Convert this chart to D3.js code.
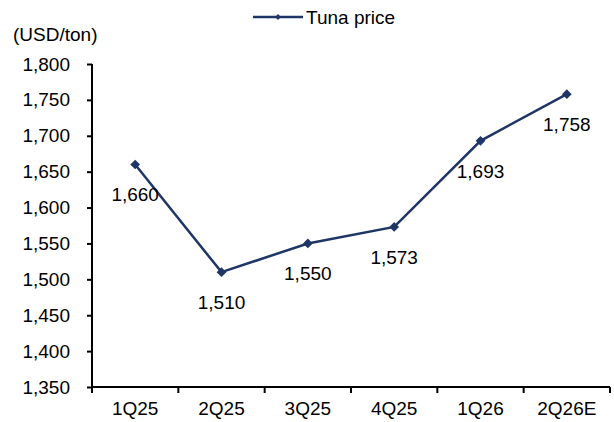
<!DOCTYPE html>
<html>
<head>
<meta charset="utf-8">
<script src="https://cdn.jsdelivr.net/npm/d3@7"></script>
<style>
  body { margin: 0; background: #fff; }
  text { font-family: Arial, "Liberation Sans", sans-serif; fill: #000; }
</style>
</head>
<body>
<svg id="chart" width="614" height="422"></svg>
<script>
// chart data
const quarters = ['1Q25', '2Q25', '3Q25', '4Q25', '1Q26', '2Q26E'];
const tunaPrice = [1660, 1510, 1550, 1573, 1693, 1758];
const yTicks = [1350, 1400, 1450, 1500, 1550, 1600, 1650, 1700, 1750, 1800];
const seriesName = 'Tuna price';
const unitLabel = '(USD/ton)';

const lineColor = '#1f3566';
const fontSize = '19px';
const svg = d3.select('#chart');

const margin = { left: 92, right: 4, top: 64, bottom: 35 };
const width = 614, height = 422;

const x = d3.scaleBand()
  .domain(quarters)
  .range([margin.left, width - margin.right])
  .paddingInner(0)
  .paddingOuter(0);

const y = d3.scaleLinear()
  .domain([1350, 1800])
  .range([height - margin.bottom, margin.top]);

const fmt = d3.format(',');

// y axis
const yAxis = svg.append('g')
  .attr('transform', `translate(${margin.left},0)`)
  .call(d3.axisLeft(y).tickValues(yTicks).tickFormat(fmt).tickSize(5).tickPadding(17));
yAxis.select('.domain').attr('stroke', '#000').attr('stroke-width', 2)
  .attr('d', `M0,${y(1800)}V${y(1350)}`);
yAxis.selectAll('.tick line').attr('stroke', '#000').attr('stroke-width', 2);
yAxis.selectAll('.tick text')
  .style('font-size', fontSize)
  .style('font-family', 'Arial, "Liberation Sans", sans-serif')
  .attr('fill', '#000');

// x axis: labels centred in bands, ticks on band boundaries
const xAxis = svg.append('g')
  .attr('transform', `translate(0,${y(1350)})`)
  .call(d3.axisBottom(x).tickSize(0).tickPadding(15));
xAxis.select('.domain').attr('stroke', '#000').attr('stroke-width', 2)
  .attr('d', `M${x.range()[0]},0H${x.range()[1]}`);
xAxis.selectAll('.tick text')
  .style('font-size', fontSize)
  .style('font-family', 'Arial, "Liberation Sans", sans-serif')
  .attr('fill', '#000');

const bounds = quarters.map(q => x(q)).concat([x.range()[1]]);
xAxis.selectAll('line.bound')
  .data(bounds)
  .enter()
  .append('line')
  .attr('class', 'bound')
  .attr('x1', d => d).attr('x2', d => d)
  .attr('y1', 0).attr('y2', 6)
  .attr('stroke', '#000')
  .attr('stroke-width', 2);

// line + markers
const cx = (d, i) => x(quarters[i]) + x.bandwidth() / 2;

svg.append('path')
  .datum(tunaPrice)
  .attr('fill', 'none')
  .attr('stroke', lineColor)
  .attr('stroke-width', 2.5)
  .attr('d', d3.line().x(cx).y(d => y(d)));

const diamond = d3.symbol().type(d3.symbolDiamond2).size(60);

svg.selectAll('path.marker')
  .data(tunaPrice)
  .enter()
  .append('path')
  .attr('class', 'marker')
  .attr('d', diamond)
  .attr('transform', (d, i) => `translate(${cx(d, i)},${y(d)})`)
  .attr('fill', lineColor);

// data labels below points
svg.selectAll('text.dlabel')
  .data(tunaPrice)
  .enter()
  .append('text')
  .attr('class', 'dlabel')
  .attr('x', cx)
  .attr('y', d => y(d) + 37)
  .attr('text-anchor', 'middle')
  .style('font-size', fontSize)
  .text(d => fmt(d));

// unit label
svg.append('text')
  .attr('x', 13)
  .attr('y', 41)
  .style('font-size', fontSize)
  .text(unitLabel);

// legend
const legend = svg.append('g');
legend.append('line')
  .attr('x1', 253).attr('x2', 303)
  .attr('y1', 17).attr('y2', 17)
  .attr('stroke', lineColor)
  .attr('stroke-width', 2.5);
legend.append('path')
  .attr('d', d3.symbol().type(d3.symbolDiamond2).size(22))
  .attr('transform', 'translate(278,17)')
  .attr('fill', lineColor);
legend.append('text')
  .attr('x', 306)
  .attr('y', 23.5)
  .style('font-size', fontSize)
  .text(seriesName);
</script>
</body>
</html>
